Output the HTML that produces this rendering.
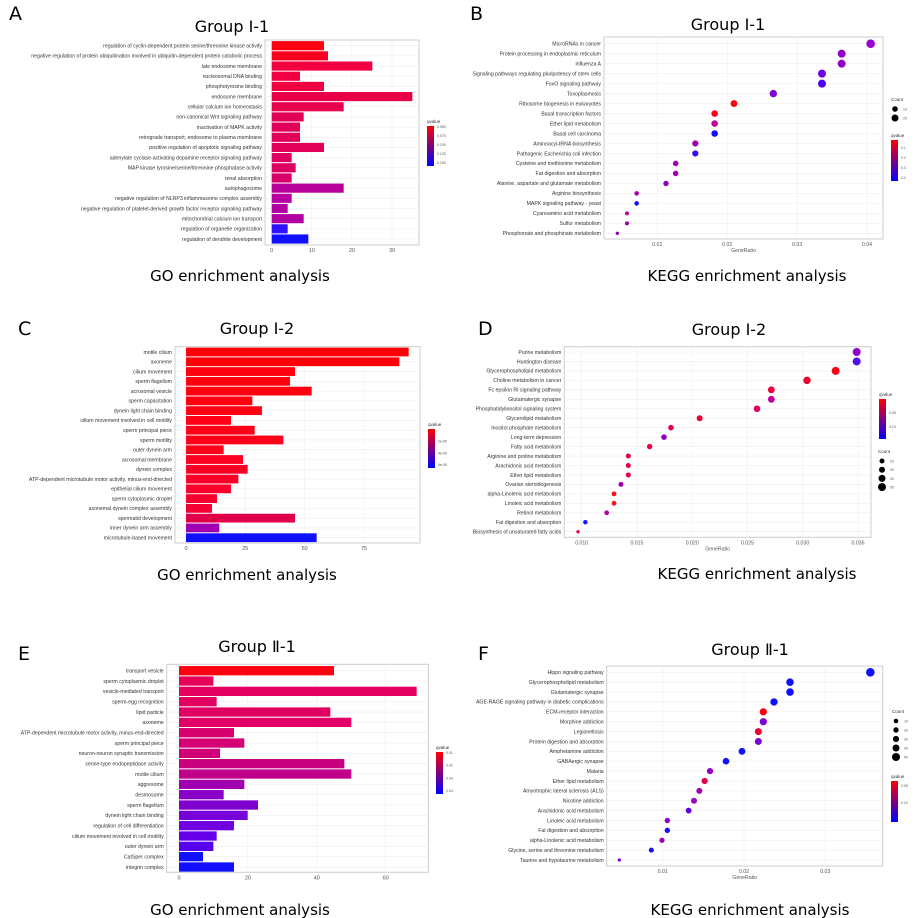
<!DOCTYPE html>
<html><head><meta charset="utf-8"><style>
html,body{margin:0;padding:0;background:#fff;}
svg{display:block;font-family:"Liberation Sans","Noto Sans CJK SC",sans-serif;}
.big{font-family:"DejaVu Sans","Liberation Sans","Noto Sans CJK SC",sans-serif;}
</style></head><body>
<svg id="s" width="915" height="918" viewBox="0 0 915 918" xmlns="http://www.w3.org/2000/svg"></svg>
<script>
const S=document.getElementById('s');let h='';
function t(x,y,s,fs,a,c,cls){h+=`<text x="${x}" y="${y}" font-size="${fs}" text-anchor="${a||'start'}" fill="${c||'#000'}" ${cls?'class="'+cls+'"':''}>${s}</text>`;}
function frame(x0,x1,y0,y1,vx,rows){
 h+=`<rect x="${x0}" y="${y0}" width="${x1-x0}" height="${y1-y0}" fill="#fff" stroke="#ccc" stroke-width="1"/>`;
 for(const v of vx)h+=`<line x1="${v}" x2="${v}" y1="${y0}" y2="${y1}" stroke="#eee" stroke-width="0.6"/>`;
 for(const r of rows)h+=`<line x1="${x0}" x2="${x1}" y1="${r}" y2="${r}" stroke="#eee" stroke-width="0.6"/>`;
}
function bar(P){
 const n=P.labels.length,sp=(P.yl-P.yf)/(n-1);const rows=[];for(let i=0;i<n;i++)rows.push(P.yf+i*sp);
 const vx=P.ticks.map(v=>P.z+v*P.k);
 frame(P.x0,P.x1,P.y0,P.y1,vx,rows);
 for(let i=0;i<n;i++){const y=rows[i];
  h+=`<rect x="${P.z}" y="${y-sp*0.45}" width="${P.ends[i]/3+P.off-P.z}" height="${sp*0.9}" fill="${P.cols[i]}"/>`;
  t(P.x0-3,y+1.8,P.labels[i],5.2,'end','#333');}
 P.ticks.forEach((v,i)=>t(P.z+v*P.k,P.y1+7,v,5.5,'middle','#555'));
 // legend
 const L=P.leg;h+=`<defs><linearGradient id="g${P.id}" x1="0" y1="0" x2="0" y2="1"><stop offset="0" stop-color="#f00"/><stop offset="1" stop-color="#00f"/></linearGradient></defs>`;
 t(L[0],L[1]-3,'qvalue',4.5,'start','#333');h+=`<rect x="${L[0]}" y="${L[1]}" width="7" height="${L[2]}" fill="url(#g${P.id})"/>`;
 P.lt.forEach((s,i)=>t(L[0]+10,L[1]+2+i*(L[2]-4)/(P.lt.length-1),s,3.5,'start','#555'));
}
function dot(P){
 const n=P.labels.length,sp=(P.yl-P.yf)/(n-1);const rows=[];for(let i=0;i<n;i++)rows.push(P.yf+i*sp);
 const vx=P.ticks.map(v=>P.a+(v-P.t0)*P.k);
 frame(P.x0,P.x1,P.y0,P.y1,vx,rows);
 for(let i=0;i<n;i++){const y=rows[i];
  h+=`<circle cx="${P.xs[i]/3+460}" cy="${y}" r="${P.r[i]}" fill="${P.cols[i]}"/>`;
  t(P.x0-3,y+1.8,P.labels[i],5.2,'end','#333');}
 P.ticks.forEach(v=>t(P.a+(v-P.t0)*P.k,P.y1+7,P.tl(v),5.2,'middle','#555'));
 t((P.x0+P.x1)/2,P.y1+13,'GeneRatio',5.2,'middle','#555');
 const C=P.cnt;t(C[0],C[1],'Count',4.5,'start','#333');
 C[2].forEach((r,i)=>{h+=`<circle cx="${C[0]+4}" cy="${C[1]+8+i*C[3]}" r="${r}" fill="#000"/>`;t(C[0]+12,C[1]+9.5+i*C[3],C[4][i],3.5,'start','#555');});
 const L=P.leg;h+=`<defs><linearGradient id="g${P.id}" x1="0" y1="0" x2="0" y2="1"><stop offset="0" stop-color="#f00"/><stop offset="1" stop-color="#00f"/></linearGradient></defs>`;
 t(L[0],L[1]-3,'qvalue',4.5,'start','#333');h+=`<rect x="${L[0]}" y="${L[1]}" width="7" height="${L[2]}" fill="url(#g${P.id})"/>`;
 P.lt.forEach((s,i)=>t(L[0]+10,L[1]+L[3]+i*L[4],s,3.5,'start','#555'));
}
// Panel A
bar({id:'A',x0:265,x1:419,y0:40,y1:245,yf:45.7,yl:239,z:271.7,k:4.01,off:0,ticks:[0,10,20,30],
labels:['regulation of cyclin-dependent protein serine/threonine kinase activity','negative regulation of protein ubiquitination involved in ubiquitin-dependent protein catabolic process','late endosome membrane','nucleosomal DNA binding','phosphotyrosine binding','endosome membrane','cellular calcium ion homeostasis','non-canonical Wnt signaling pathway','inactivation of MAPK activity','retrograde transport, endosome to plasma membrane','positive regulation of apoptotic signaling pathway','adenylate cyclase-activating dopamine receptor signaling pathway','MAP kinase tyrosine/serine/threonine phosphatase activity','renal absorption','autophagosome','negative regulation of NLRP3 inflammasome complex assembly','negative regulation of platelet-derived growth factor receptor signaling pathway','mitochondrial calcium ion transport','regulation of organelle organization','regulation of dendrite development'],
ends:[972,984,1117,900,972,1237,1031,911,900,900,972,875,887,875,1031,875,863,911,863,925],
cols:['#ff0010','#fa0020','#f00040','#f00040','#f00040','#e80048','#e80050','#e00055','#e00058','#e00058','#e00058','#dd0060','#dd0060','#d80068','#b80098','#b800a0','#b000a0','#b000a0','#3010ff','#1010ff'],
leg:[427,126,40],lt:['0.050','0.075','0.100','0.125','0.150']});
// Panel C
bar({id:'C',x0:175,x1:420,y0:346.7,y1:543,yf:352,yl:537.7,z:186,k:2.373,off:0,ticks:[0,25,50,75],
labels:['motile cilium','axoneme','cilium movement','sperm flagellum','acrosomal vesicle','sperm capacitation','dynein light chain binding','cilium movement involved in cell motility','sperm principal piece','sperm motility','outer dynein arm','acrosomal membrane','dynein complex','ATP-dependent microtubule motor activity, minus-end-directed','epithelial cilium movement','sperm cytoplasmic droplet','axonemal dynein complex assembly','spermatid development','inner dynein arm assembly','microtubule-based movement'],
ends:[1226,1198,885,870,935,757,786,693,764,850,671,729,743,715,693,651,636,885,658,950],
cols:['#ff0008','#ff0008','#ff000c','#ff000c','#ff0010','#ff0010','#ff0014','#ff0014','#ff0018','#ff0018','#fc001c','#fc0020','#fa0024','#fa0028','#f8002c','#f60030','#f40034','#e0004a','#a000b0','#1010ff'],
leg:[428,429,39],lt:['','2e-05','4e-05','6e-05']});
// Panel E
bar({id:'E',x0:166.7,x1:428.3,y0:664.3,y1:872.3,yf:670.7,yl:867,z:179,k:3.444,off:0,ticks:[0,20,40,60],
labels:['transport vesicle','sperm cytoplasmic droplet','vesicle-mediated transport','sperm-egg recognition','lipid particle','axoneme','ATP-dependent microtubule motor activity, minus-end-directed','sperm principal piece','neuron-neuron synaptic transmission','serine-type endopeptidase activity','motile cilium','aggresome','desmosome','sperm flagellum','dynein light chain binding','regulation of cell differentiation','cilium movement involved in cell motility','outer dynein arm','CatSper complex','integrin complex'],
ends:[1002,640,1250,650,991,1054,702,733,660,1033,1054,733,671,774,743,702,650,640,609,702],
cols:['#ff0010','#e8005a','#e4005e','#e20060','#e00064','#e00066','#d8006e','#d40074','#d00078','#c8007e','#c00088','#a000b0','#8800c8','#8000d0','#7800d8','#7000e0','#6400e8','#5800ee','#1010ff','#1010ff'],
leg:[436,752,42],lt:['0.01','0.02','0.03','0.04']});
// Panel B
dot({id:'B',x0:604,x1:883,y0:37,y1:239,yf:43.7,yl:233.3,a:657.3,t0:0.01,k:6990,ticks:[0.01,0.02,0.03,0.04],tl:v=>v.toFixed(2),
labels:['MicroRNAs in cancer','Protein processing in endoplasmic reticulum','Influenza A','Signaling pathways regulating pluripotency of stem cells','FoxO signaling pathway','Toxoplasmosis','Ribosome biogenesis in eukaryotes','Basal transcription factors','Ether lipid metabolism','Basal cell carcinoma','Aminoacyl-tRNA biosynthesis','Pathogenic Escherichia coli infection','Cysteine and methionine metabolism','Fat digestion and absorption','Alanine, aspartate and glutamate metabolism','Arginine biosynthesis','MAPK signaling pathway - yeast','Cyanoamino acid metabolism','Sulfur metabolism','Phosphonate and phosphinate metabolism'],
xs:[1232,1145,1145,1086,1086,940,822,764,764,764,706,706,647,647,618,530,530,501,501,472],
r:[4.3,4,4,4,4,3.7,3.4,3.3,3.3,3.3,3.1,3.1,2.8,2.8,2.7,2.3,2.3,2,2,1.7],
cols:['#9a00d0','#9000c8','#9000c8','#7000e0','#5000f0','#8000d0','#ff0010','#ff0018','#c000a0','#1010ff','#a000b0','#3010ff','#a000b0','#a000b0','#9000c0','#a000b0','#1010ff','#c00090','#a000b0','#9000c0'],
cnt:[891,101,[2.8,3.5],9,['10','20']],leg:[891,140,41,9,10],lt:['0.1','0.2','0.3','0.4']});
// Panel D
dot({id:'D',x0:564.3,x1:871,y0:346.7,y1:537.3,yf:352,yl:531.7,a:581.7,t0:0.01,k:11052,ticks:[0.01,0.015,0.02,0.025,0.03,0.035],tl:v=>v.toFixed(3),
labels:['Purine metabolism','Huntington disease','Glycerophospholipid metabolism','Choline metabolism in cancer','Fc epsilon RI signaling pathway','Glutamatergic synapse','Phosphatidylinositol signaling system','Glycerolipid metabolism','Inositol phosphate metabolism','Long-term depression','Fatty acid metabolism','Arginine and proline metabolism','Arachidonic acid metabolism','Ether lipid metabolism','Ovarian steroidogenesis','alpha-Linolenic acid metabolism','Linoleic acid metabolism','Retinol metabolism','Fat digestion and absorption','Biosynthesis of unsaturated fatty acids'],
xs:[1190,1190,1127,1041,934,934,891,719,633,612,569,505,505,505,483,462,462,440,376,354],
r:[4,4,4,3.7,3.4,3.4,3.3,3,2.8,2.8,2.7,2.5,2.5,2.5,2.5,2.4,2.4,2.4,2.2,1.7],
cols:['#9000c8','#5010f0','#ff0010','#f00030','#f00040','#c000a0','#e00060','#f00030','#e00060','#9000c0','#f00040','#e00050','#e00050','#e00050','#a000b0','#ff1020','#ff1020','#b000a0','#1010ff','#f00050'],
cnt:[878,453,[2.5,3,3.5,4],8.7,['20','30','40','50']],leg:[879,399,40,15,14],lt:['0.05','0.10']});
// Panel F
dot({id:'F',x0:606.7,x1:882.7,y0:666,y1:866,yf:672.3,yl:860,a:662.7,t0:0.01,k:8130,ticks:[0.01,0.02,0.03],tl:v=>v.toFixed(2),
labels:['Hippo signaling pathway','Glycerophospholipid metabolism','Glutamatergic synapse','AGE-RAGE signaling pathway in diabetic complications','ECM-receptor interaction','Morphine addiction','Legionellosis','Protein digestion and absorption','Amphetamine addiction','GABAergic synapse','Malaria','Ether lipid metabolism','Amyotrophic lateral sclerosis (ALS)','Nicotine addiction','Arachidonic acid metabolism','Linoleic acid metabolism','Fat digestion and absorption','alpha-Linolenic acid metabolism','Glycine, serine and threonine metabolism','Taurine and hypotaurine metabolism'],
xs:[1231,990,990,942,910,910,895,895,846,798,750,734,718,702,686,622,622,606,574,478],
r:[4.3,3.8,3.8,3.7,3.6,3.6,3.5,3.5,3.4,3.3,3.1,3.1,3,3,2.9,2.7,2.7,2.6,2.5,1.6],
cols:['#1010ff','#1010ff','#1010ff','#1010ff','#ff0010','#8000d0','#f00030','#8000d0','#1010ff','#1010ff','#9000c0','#e0004a','#a000b0','#9010c0','#6000e0','#9000c0','#1010ff','#a000b0','#1010ff','#8000d0'],
cnt:[892,713,[2.3,2.7,3.1,3.5,4],9,['10','20','30','40','50']],leg:[891,781,41,6,17],lt:['0.05','0.10']});
// big text
const B=(x,y,s,fs,a)=>t(x,y,s,fs,a,'#000','big');
B(9,20,'A',19);B(470,20,'B',19);B(18,335,'C',19);B(478,335,'D',19);B(18,660,'E',19);B(478,660,'F',19);
B(232,32,'Group Ⅰ-1',16,'middle');B(728,30,'Group Ⅰ-1',16,'middle');
B(257,334,'Group Ⅰ-2',16,'middle');B(729,335,'Group Ⅰ-2',16,'middle');
B(257,652,'Group Ⅱ-1',16,'middle');B(750,655,'Group Ⅱ-1',16,'middle');
B(240,281,'GO enrichment analysis',15,'middle');B(747,281,'KEGG enrichment analysis',15,'middle');
B(247,580,'GO enrichment analysis',15,'middle');B(757,579,'KEGG enrichment analysis',15,'middle');
B(240,915,'GO enrichment analysis',15,'middle');B(750,915,'KEGG enrichment analysis',15,'middle');
S.innerHTML=h;
</script>
</body></html>
